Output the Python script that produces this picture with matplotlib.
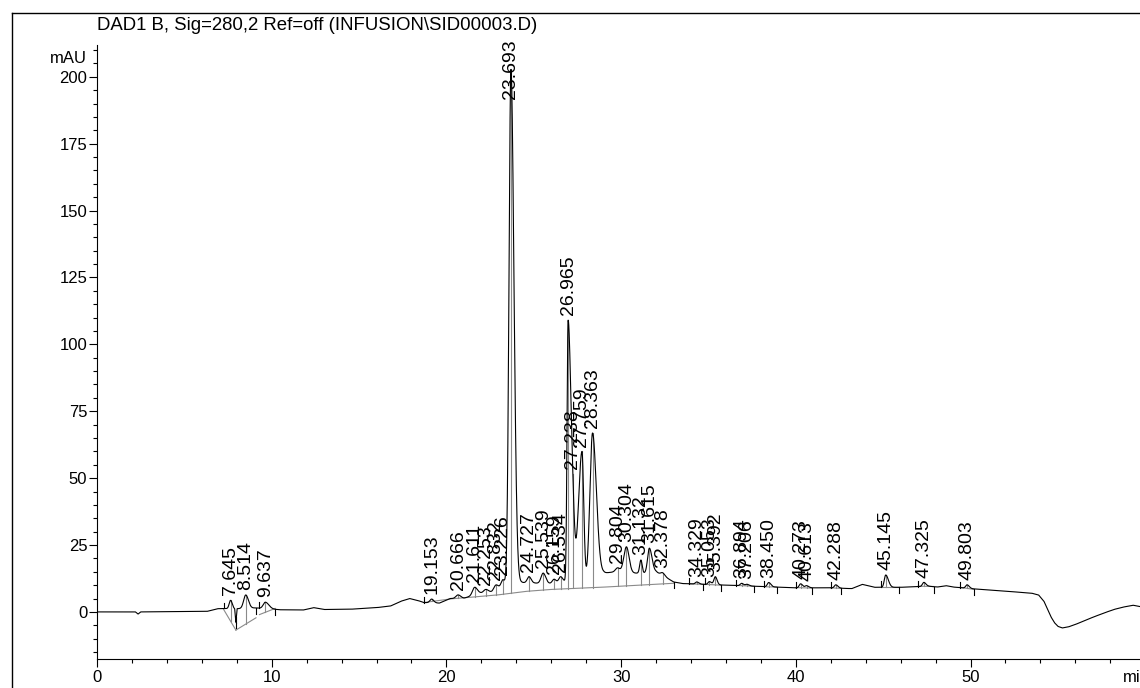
import numpy as np
import matplotlib.pyplot as plt
from matplotlib.lines import Line2D
from matplotlib.ticker import MultipleLocator

plt.rcParams["font.family"] = ["Liberation Sans", "DejaVu Sans"]

TITLE = "DAD1 B, Sig=280,2 Ref=off (INFUSION\\SID00003.D)"

# slow drift of the detector signal, incl. unlabeled bumps (min, mAU)
drift_t = [0, 2.2, 2.35, 2.5, 6.3, 6.9, 7.3, 7.88, 7.95, 8.02, 9.1, 10.5,
           11.8, 12.4, 13.0, 14.5, 16.0, 16.8, 17.4, 17.9, 18.4, 18.7, 19.6,
           20.2, 21.0, 21.9, 22.6, 23.05, 24.3, 25.05, 25.8, 26.3, 26.75,
           27.5, 28.5, 29.0, 29.7, 30.85, 31.3, 32.0, 32.5, 33.0, 33.5, 36.0,
           38.0, 40.0, 42.0, 43.2, 43.8, 44.5, 46.0, 47.6, 48.1, 48.6, 49.0,
           50.2, 51.5, 53.5, 53.9, 54.2, 54.4, 54.6, 54.8, 55.0, 55.25, 55.6,
           56.0, 56.4, 57.0, 57.6, 58.2, 58.7, 59.3, 59.7]
drift_v = [0, 0, -0.8, 0, 0.2, 1.2, 1.3, 1.0, -4.0, 1.2, 1.5, 0.8,
           0.7, 1.6, 0.9, 1.0, 1.6, 2.2, 4.0, 5.0, 4.2, 3.5, 3.3,
           5.0, 5.1, 7.0, 7.4, 8.5, 11.0, 10.8, 10.5, 10.8, 11.3,
           11.0, 12.0, 14.5, 15.0, 14.5, 14.5, 15.0, 13.2, 11.2, 10.6, 10.0,
           9.5, 9.0, 9.0, 8.7, 10.3, 9.2, 9.2, 9.6, 9.3, 9.8, 9.3,
           8.6, 8.0, 7.0, 6.3, 4.0, 1.2, -1.8, -4.0, -5.4, -6.0, -5.6,
           -4.7, -3.6, -2.0, -0.5, 0.9, 1.75, 2.5, 2.0]

# integrated peaks: retention time, height above drift, left / right width
pk_t = [7.645, 8.514, 9.637, 19.153, 20.666, 21.611, 22.253, 22.832, 23.226,
        23.693, 24.727, 25.539, 26.159, 26.534, 26.965, 27.238, 27.759,
        28.363, 29.804, 30.304, 31.132, 31.615, 32.378, 34.329, 35.053,
        35.392, 36.894, 37.206, 38.450, 40.273, 40.613, 42.288, 45.145,
        47.325, 49.803]
pk_h = [3.2, 5.0, 2.4, 1.4, 1.3, 2.8, 1.2, 2.1, 3.1,
        193.0, 2.3, 3.9, 1.5, 2.1, 97.5, 12.0, 48.7,
        55.0, 1.5, 9.6, 4.9, 9.1, 1.0, 0.8, 1.1,
        3.0, 0.9, 0.6, 1.6, 1.5, 0.8, 1.2, 4.6,
        1.5, 1.3]
pk_wl = [0.08, 0.12, 0.12, 0.1, 0.12, 0.12, 0.12, 0.12, 0.1,
         0.11, 0.1, 0.12, 0.1, 0.1, 0.06, 0.1, 0.2,
         0.15, 0.12, 0.15, 0.07, 0.1, 0.1, 0.08, 0.08,
         0.08, 0.08, 0.08, 0.08, 0.08, 0.08, 0.08, 0.08,
         0.08, 0.08]
pk_wr = [0.1, 0.15, 0.2, 0.12, 0.15, 0.15, 0.15, 0.15, 0.12,
         0.17, 0.12, 0.15, 0.12, 0.12, 0.17, 0.1, 0.1,
         0.22, 0.12, 0.15, 0.07, 0.15, 0.12, 0.12, 0.12,
         0.1, 0.12, 0.12, 0.12, 0.12, 0.12, 0.12, 0.15,
         0.12, 0.12]

# integration baselines drawn under the peaks
base_segs = [
    [(7.25, 0.9), (7.95, -6.8)],
    [(7.95, -6.8), (9.1, -2.2)],
    [(9.3, -1.0), (10.2, 1.3)],
    [(18.7, 3.5), (20.3, 4.9), (21.6, 5.6), (23.0, 6.4), (24.6, 7.7),
     (26.0, 8.4), (29.1, 9.3), (33.0, 10.7)],
    [(33.9, 10.5), (34.7, 10.3)],
    [(34.8, 10.3), (35.7, 10.0)],
    [(36.6, 9.9), (37.6, 9.6)],
    [(38.2, 9.4), (38.9, 9.3)],
    [(40.0, 9.1), (40.9, 8.9)],
    [(42.0, 9.0), (42.6, 8.8)],
    [(44.9, 9.2), (45.9, 9.2)],
    [(47.0, 9.6), (47.9, 9.5)],
    [(49.4, 9.2), (50.2, 8.4)],
]


def signal(x):
    x = np.asarray(x, dtype=float)
    y = np.interp(x, drift_t, drift_v)
    for t0, h, wl, wr in zip(pk_t, pk_h, pk_wl, pk_wr):
        w = np.where(x < t0, wl, wr)
        y = y + h * np.exp(-0.5 * ((x - t0) / w) ** 2)
    return y


def base_at(t0):
    for seg in base_segs:
        ts = [p[0] for p in seg]
        if ts[0] <= t0 <= ts[-1]:
            return np.interp(t0, ts, [p[1] for p in seg])
    return None


fig = plt.figure(figsize=(11.4, 6.88), dpi=100)
ax = fig.add_axes([97 / 1140, 1 - 659 / 688, 1 - 97 / 1140, (659 - 44.7) / 688])

t = np.linspace(0, 59.7, 8000)
ax.plot(t, signal(t), color="black", lw=0.8, zorder=3)

gray = "#8a8a8a"
for seg in base_segs:
    ax.plot([p[0] for p in seg], [p[1] for p in seg], color=gray, lw=0.8, zorder=2)
    # start / end marks of the integration events
    t_s, t_e = seg[0][0], seg[-1][0]
    v_s, v_e = signal(t_s), signal(t_e)
    ax.plot([t_s, t_s], [v_s, v_s + 2.2], color="black", lw=0.8, zorder=4)
    ax.plot([t_e, t_e], [v_e, v_e - 2.2], color="black", lw=0.8, zorder=4)

for t0 in pk_t:
    top = float(signal(t0))
    b = base_at(t0)
    if b is not None:
        ax.plot([t0, t0], [b, top], color=gray, lw=0.8, zorder=2)
    ax.annotate(f"{t0:.3f}", xy=(t0, min(top, 190)), xytext=(0, 3.5),
                textcoords="offset points", rotation=90, ha="center",
                va="bottom", fontsize=14, zorder=5)

ax.set_xlim(0, 59.7)
ax.set_ylim(-17.6, 212)
for side in ("top", "right"):
    ax.spines[side].set_visible(False)
for side in ("left", "bottom"):
    ax.spines[side].set_linewidth(0.8)

ax.xaxis.set_major_locator(MultipleLocator(10))
ax.xaxis.set_minor_locator(MultipleLocator(2))
ax.yaxis.set_major_locator(MultipleLocator(25))
ax.yaxis.set_minor_locator(MultipleLocator(5))
ax.tick_params(which="major", direction="out", length=6, width=0.8, labelsize=12)
ax.tick_params(which="minor", direction="out", length=3, width=0.8)
ax.tick_params(axis="y", pad=1)
ax.tick_params(axis="x", pad=2)

ax.annotate("min", xy=(58.7, 0), xycoords=("data", "axes fraction"),
            xytext=(0, -8), textcoords="offset points", ha="left", va="top",
            fontsize=12)
ax.annotate("mAU", xy=(0, 207), xycoords="data", xytext=(-7, 0),
            textcoords="offset points", ha="right", va="center", fontsize=12)

fig.text(97 / 1140, 1 - 25 / 688, TITLE, ha="left", va="center", fontsize=13.4)

# outer frame of the report page
fig.add_artist(Line2D([11.5 / 1140, 1], [1 - 12.7 / 688] * 2,
                      transform=fig.transFigure, color="black", lw=1))
fig.add_artist(Line2D([11.5 / 1140] * 2, [0, 1 - 12.7 / 688],
                      transform=fig.transFigure, color="black", lw=1))

fig.savefig("out.png", dpi=100)
